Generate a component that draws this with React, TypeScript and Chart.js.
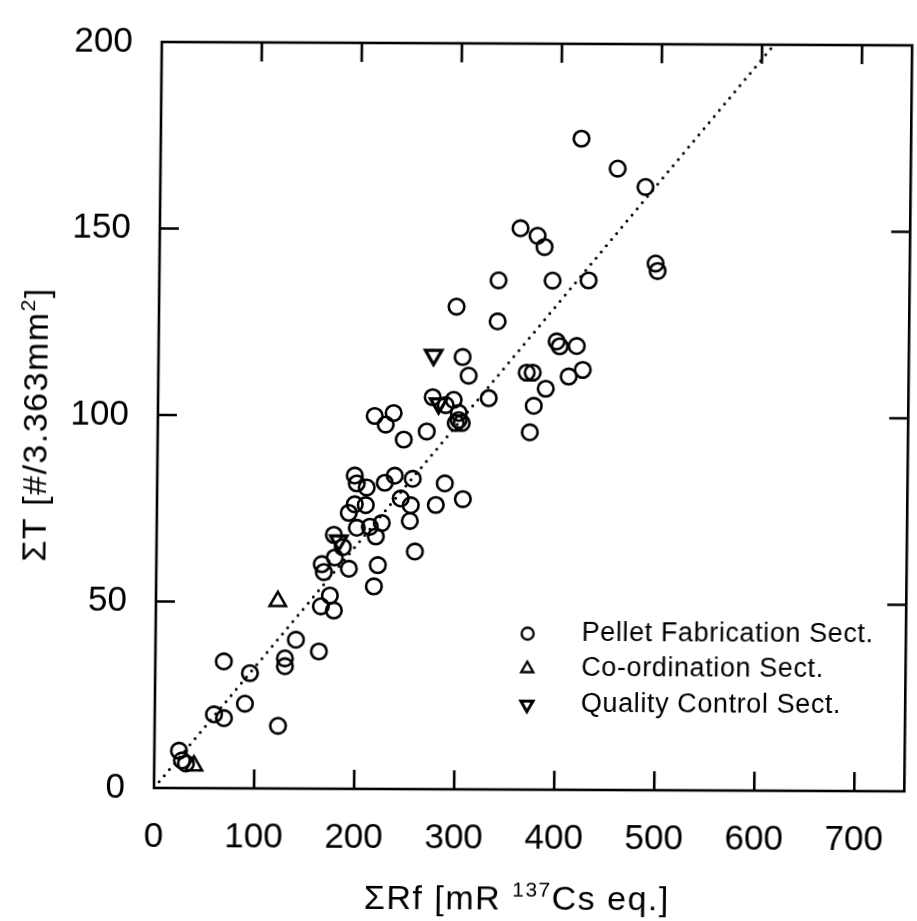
import React, { useEffect, useRef } from "react";
import { Chart, registerables } from "chart.js";

Chart.register(...registerables);

// ---- data ----
const pelletX = [420.5, 457, 485, 360.5, 377.6, 384.7, 495.9, 498, 339.1, 393.1, 429.1, 338.6, 297.4, 304, 310.2, 368.2, 374.2, 397.8, 400.9, 417.9, 424.2, 410.2, 387.4, 375.6, 371.9, 330.5, 274.5, 295.5, 287.6, 300.7, 300.7, 297.8, 303.8, 216.7, 235.6, 227.8, 246, 268.9, 197.4, 199.5, 209.5, 227.5, 237.4, 255.4, 287.5, 305.7, 243.6, 253.7, 278.7, 252.9, 197.7, 208.7, 191.8, 224.9, 213, 200, 219.1, 177.1, 186.2, 178.3, 165.4, 167.5, 192.5, 221.4, 258.3, 217.7, 173.8, 164.9, 177.9, 140.3, 163.4, 129.5, 129.6, 68.5, 94.7, 90, 59.2, 69.2, 123.3, 24.6, 27.7, 31.7];
const pelletY = [174.6, 166.6, 161.7, 150.5, 148.5, 145.5, 141.2, 139.2, 136.5, 136.5, 136.6, 125.5, 129.4, 115.9, 110.9, 111.8, 111.8, 120.2, 118.9, 119, 112.6, 110.8, 107.5, 102.9, 95.8, 104.9, 105.1, 104.4, 103, 100.9, 99, 98.2, 98.2, 100, 100.8, 97.7, 93.7, 95.9, 84, 81.9, 80.8, 82.1, 84, 83.2, 82, 77.8, 77.9, 76.1, 76.2, 71.9, 76.3, 76.1, 74, 71.3, 70.3, 70, 67.7, 68.1, 64.8, 62, 60.2, 58.1, 59, 60, 63.7, 54.3, 51.8, 48.9, 47.8, 39.9, 36.8, 34.9, 32.8, 34, 30.9, 22.7, 19.8, 18.8, 16.8, 10, 7.4, 6.6];
const coordX = [121.8, 39.7];
const coordY = [50.2, 6];
const qcX = [275, 280.5, 182.1];
const qcY = [116.4, 103.4, 66.5];
const fitX = [0, 612];
const fitY = [0, 200];
const xTicks = [0, 100, 200, 300, 400, 500, 600, 700];
const yTicks = [0, 50, 100, 150, 200];
const legendLabels = ["Pellet Fabrication Sect.", "Co-ordination Sect.", "Quality Control Sect."];
const xTitleParts = ["\u03A3Rf [mR ", "137", "Cs eq.]"];
const yTitleParts = ["\u03A3T [#/3.363mm", "2", "]"];

const FONT = '"Liberation Sans", Arial, Helvetica, sans-serif';

const pts = (xs: number[], ys: number[]) => xs.map((x, i) => ({ x, y: ys[i] }));

function drawMarker(ctx: CanvasRenderingContext2D, kind: string, x: number, y: number, r: number) {
  ctx.beginPath();
  if (kind === "circle") {
    ctx.arc(x, y, r, 0, Math.PI * 2);
  } else if (kind === "up") {
    ctx.moveTo(x, y - r);
    ctx.lineTo(x + r * 0.866, y + r * 0.5);
    ctx.lineTo(x - r * 0.866, y + r * 0.5);
    ctx.closePath();
  } else {
    ctx.moveTo(x, y + r);
    ctx.lineTo(x + r * 0.866, y - r * 0.5);
    ctx.lineTo(x - r * 0.866, y - r * 0.5);
    ctx.closePath();
  }
  ctx.stroke();
}

function drawSupText(ctx: CanvasRenderingContext2D, parts: string[], cx: number, cy: number, size: number, spacing: number) {
  const big = `${size}px ${FONT}`;
  const small = `${Math.round(size * 0.62)}px ${FONT}`;
  (ctx as any).letterSpacing = `${spacing}px`;
  ctx.font = big;
  const w0 = ctx.measureText(parts[0]).width;
  const w2 = ctx.measureText(parts[2]).width;
  ctx.font = small;
  const w1 = ctx.measureText(parts[1]).width;
  const total = w0 + w1 + w2;
  let x = cx - total / 2;
  ctx.textAlign = "left";
  ctx.textBaseline = "middle";
  ctx.font = big;
  ctx.fillText(parts[0], x, cy);
  x += w0;
  ctx.font = small;
  ctx.fillText(parts[1], x, cy - size * 0.3);
  x += w1;
  ctx.font = big;
  ctx.fillText(parts[2], x, cy);
  (ctx as any).letterSpacing = "0px";
}

const framePlugin = {
  id: "frameDecor",
  afterDatasetsDraw(chart: any) {
    const ctx: CanvasRenderingContext2D = chart.ctx;
    const { left, right, top, bottom } = chart.chartArea;
    const xs = chart.scales.x;
    const ys = chart.scales.y;
    ctx.save();
    ctx.strokeStyle = "#000";
    ctx.fillStyle = "#000";
    ctx.lineWidth = 2.6;
    ctx.strokeRect(left, top, right - left, bottom - top);
    const tl = 19;
    ctx.beginPath();
    xTicks.forEach((v) => {
      const px = xs.getPixelForValue(v);
      if (px <= left + 2 || px >= right - 2) return;
      ctx.moveTo(px, bottom);
      ctx.lineTo(px, bottom - tl);
      ctx.moveTo(px, top);
      ctx.lineTo(px, top + tl);
    });
    yTicks.forEach((v) => {
      const py = ys.getPixelForValue(v);
      if (py <= top + 2 || py >= bottom - 2) return;
      ctx.moveTo(left, py);
      ctx.lineTo(left + tl, py);
      ctx.moveTo(right, py);
      ctx.lineTo(right - tl, py);
    });
    ctx.stroke();

    // legend
    const kinds = ["circle", "up", "down"];
    const rowsY = [632, 667, 703];
    ctx.font = `27px ${FONT}`;
    (ctx as any).letterSpacing = "0.6px";
    ctx.textAlign = "left";
    ctx.textBaseline = "middle";
    legendLabels.forEach((lab, i) => {
      ctx.lineWidth = i === 2 ? 3 : 2.3;
      drawMarker(ctx, kinds[i], 526, rowsY[i], i === 0 ? 6 : 7);
      ctx.fillText(lab, 580, rowsY[i]);
    });
    (ctx as any).letterSpacing = "0px";

    // axis titles
    drawSupText(ctx, xTitleParts, 518, 899, 34, 1.5);
    ctx.save();
    ctx.translate(34, 425);
    ctx.rotate(-Math.PI / 2);
    drawSupText(ctx, yTitleParts, 0, 0, 34, 1.5);
    ctx.restore();
    ctx.restore();
  },
};

export default function App() {
  const ref = useRef<HTMLCanvasElement | null>(null);
  useEffect(() => {
    if (!ref.current) return;
    const chart = new Chart(ref.current, {
      type: "scatter",
      data: {
        datasets: [
          {
            label: "fit",
            data: pts(fitX, fitY),
            showLine: true,
            pointRadius: 0,
            borderColor: "#000",
            borderWidth: 3,
            borderDash: [0, 8],
            borderCapStyle: "round",
          } as any,
          {
            label: legendLabels[0],
            data: pts(pelletX, pelletY),
            pointStyle: "circle",
            pointRadius: 7.8,
            borderWidth: 2.6,
            borderColor: "#000",
            backgroundColor: "rgba(0,0,0,0)",
          },
          {
            label: legendLabels[1],
            data: pts(coordX, coordY),
            pointStyle: "triangle",
            pointRadius: 9.5,
            borderWidth: 2.5,
            borderColor: "#000",
            backgroundColor: "rgba(0,0,0,0)",
          },
          {
            label: legendLabels[2],
            data: pts(qcX, qcY),
            pointStyle: "triangle",
            rotation: 180,
            pointRadius: 9.5,
            borderWidth: 3.2,
            borderColor: "#000",
            backgroundColor: "rgba(0,0,0,0)",
          } as any,
        ],
      },
      options: {
        animation: false,
        responsive: false,
        maintainAspectRatio: false,
        layout: { padding: { top: 28, right: 5, left: 0, bottom: 0 } },
        plugins: { legend: { display: false }, tooltip: { enabled: false }, title: { display: false } },
        scales: {
          x: {
            type: "linear",
            min: 0,
            max: 750,
            grid: { display: false },
            border: { display: false },
            afterBuildTicks: (s: any) => {
              s.ticks = xTicks.map((v) => ({ value: v }));
            },
            afterFit: (s: any) => {
              s.height = 133;
            },
            ticks: {
              color: "#000",
              font: { family: FONT, size: 35 },
              padding: 20,
              maxRotation: 0,
              autoSkip: false,
            },
          },
          y: {
            type: "linear",
            min: 0,
            max: 200,
            grid: { display: false },
            border: { display: false },
            afterBuildTicks: (s: any) => {
              s.ticks = yTicks.map((v) => ({ value: v }));
            },
            afterFit: (s: any) => {
              s.width = 154;
            },
            ticks: {
              color: "#000",
              font: { family: FONT, size: 35 },
              padding: 21,
              autoSkip: false,
            },
          },
        },
      },
      plugins: [framePlugin],
    });
    return () => chart.destroy();
  }, []);
  return (
    <div style={{ position: "fixed", left: 0, top: 0, width: 917, height: 921, background: "#fff", overflow: "hidden" }}>
      <canvas
        ref={ref}
        width={917}
        height={921}
        style={{
          display: "block",
          width: 917,
          height: 921,
          transformOrigin: "154px 788px",
          transform: "matrix(1, 0.0045, -0.0105, 1, 0, 0)",
        }}
      />
    </div>
  );
}
